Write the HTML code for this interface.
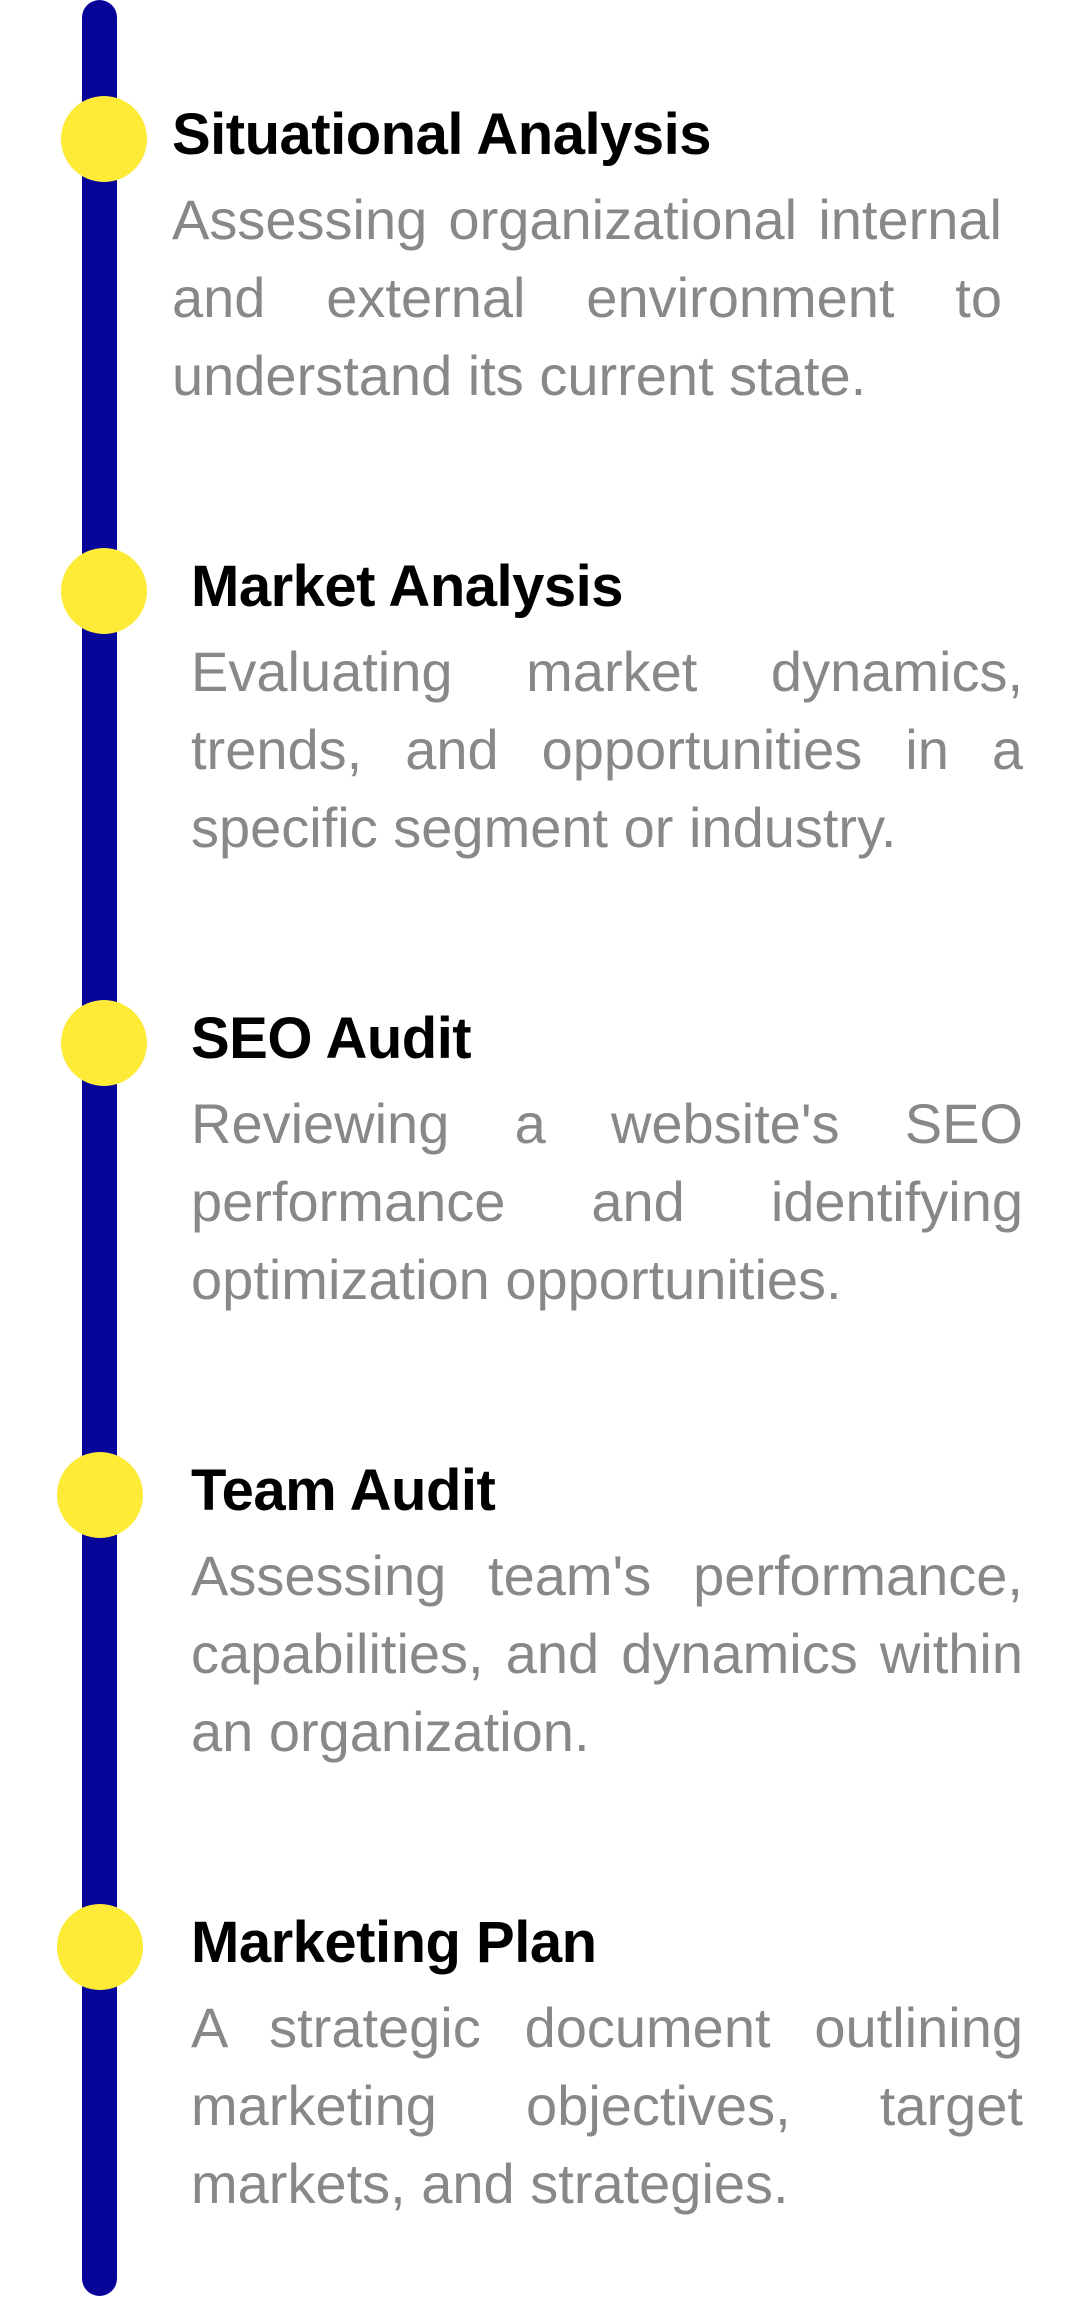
<!DOCTYPE html>
<html><head><meta charset="utf-8"><style>
html,body{margin:0;padding:0;background:#fff;}
body{width:1080px;height:2300px;position:relative;overflow:hidden;font-family:"Liberation Sans",sans-serif;}
.bar{position:absolute;left:82px;top:0;width:35px;height:2296px;background:#08059b;border-radius:18px;}
.dot{position:absolute;width:86px;height:86px;border-radius:50%;background:#fdeb37;}
.t{position:absolute;font-weight:bold;font-size:58px;line-height:70px;color:#000;white-space:nowrap;letter-spacing:-0.5px;}
.b{position:absolute;font-size:56px;line-height:77.8px;color:#888;}
.b div{text-align:justify;text-align-last:justify;white-space:nowrap;}
.b div.l{text-align-last:left;}
</style></head><body>
<div class="bar"></div>

<div class="dot" style="left:61px;top:96px"></div>
<div class="t" style="left:172px;top:100px">Situational Analysis</div>
<div class="b" style="left:172px;top:181px;width:830px">
<div>Assessing organizational internal</div>
<div>and external environment to</div>
<div class="l">understand its current state.</div>
</div>

<div class="dot" style="left:61px;top:548px"></div>
<div class="t" style="left:191px;top:552px">Market Analysis</div>
<div class="b" style="left:191px;top:633px;width:832px">
<div>Evaluating market dynamics,</div>
<div>trends, and opportunities in a</div>
<div class="l">specific segment or industry.</div>
</div>

<div class="dot" style="left:61px;top:1000px"></div>
<div class="t" style="left:191px;top:1004px">SEO Audit</div>
<div class="b" style="left:191px;top:1085px;width:832px">
<div>Reviewing a website's SEO</div>
<div>performance and identifying</div>
<div class="l">optimization opportunities.</div>
</div>

<div class="dot" style="left:57px;top:1452px"></div>
<div class="t" style="left:191px;top:1456px">Team Audit</div>
<div class="b" style="left:191px;top:1537px;width:832px">
<div>Assessing team's performance,</div>
<div>capabilities, and dynamics within</div>
<div class="l">an organization.</div>
</div>

<div class="dot" style="left:57px;top:1904px"></div>
<div class="t" style="left:191px;top:1908px">Marketing Plan</div>
<div class="b" style="left:191px;top:1989px;width:832px">
<div>A strategic document outlining</div>
<div>marketing objectives, target</div>
<div class="l">markets, and strategies.</div>
</div>
</body></html>
